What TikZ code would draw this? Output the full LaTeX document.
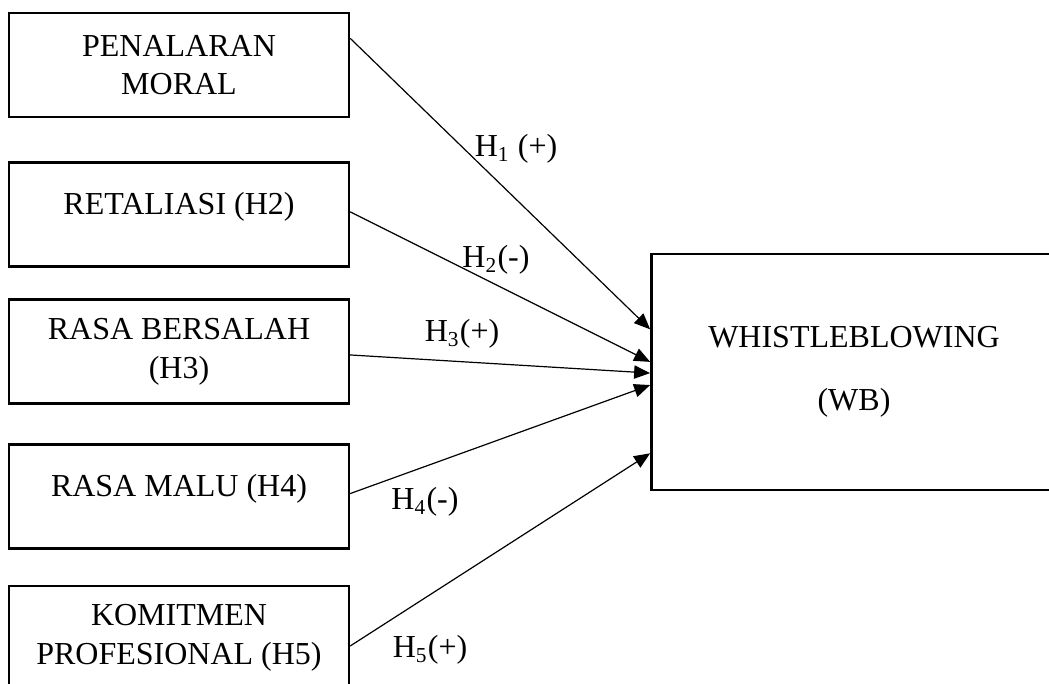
\documentclass[tikz,border=0pt]{standalone}
\usepackage{fontspec}
\setmainfont{Liberation Serif}
\usetikzlibrary{arrows.meta}
\newcommand{\varboxw}{127.5pt}
\newcommand{\varboxh}{39pt}
\newcommand{\wbboxw}{152pt}
\newcommand{\wbboxh}{88.5pt}
\newcommand{\varx}{179}
\newcommand{\txtfont}{\fontsize{12}{14.5}\selectfont}

\begin{document}
\begin{tikzpicture}[x=0.375pt,y=-0.375pt]
    \tikzset{
      varbox/.style={draw, line width=0.9pt, minimum width=\varboxw,
        minimum height=\varboxh, align=center, inner sep=0pt, font=\txtfont},
      onerow/.style={text height=9pt, text depth=9pt},
      hyp/.style={-{Triangle[length=6pt,width=5pt]}, line width=0.45pt},
      hlabel/.style={anchor=base, inner sep=0pt, font=\txtfont}
    }
    \useasboundingbox (0,0) rectangle (1049,684);
    % independent variables
    \node[varbox] (pm) at (\varx,65) {PENALARAN\\MORAL};
    \node[varbox,onerow] (ret) at (\varx,214.5) {RETALIASI (H2)};
    \node[varbox] (rb) at (\varx,351.5) {RASA BERSALAH\\(H3)};
    \node[varbox,onerow] (rm) at (\varx,496.5) {RASA MALU (H4)};
    \node[varbox] (kp) at (\varx,638) {KOMITMEN\\PROFESIONAL (H5)};
    % dependent variable
    \node[varbox, minimum width=\wbboxw, minimum height=\wbboxh] (wb) at (854,372)
      {WHISTLEBLOWING\\[9pt](WB)};
    % hypotheses
    \draw[hyp] ([yshift=10pt]pm.east) -- ([yshift=16pt]wb.west);
    \draw[hyp] ([yshift=1pt]ret.east) -- ([yshift=3.8pt]wb.west);
    \draw[hyp] ([yshift=-1.3pt]rb.east) -- ([yshift=-0.4pt]wb.west);
    \draw[hyp] ([yshift=1.1pt]rm.east) -- ([yshift=-4.9pt]wb.west);
    \draw[hyp] ([yshift=-3pt]kp.east) -- ([yshift=-30.5pt]wb.west);
    \node[hlabel] (h1) at (516,157) {H\textsubscript{1} (+)};
    \node[hlabel] (h2) at (496,268) {H\textsubscript{2}(-)};
    \node[hlabel] (h3) at (462,342) {H\textsubscript{3}(+)};
    \node[hlabel] (h4) at (425,510) {H\textsubscript{4}(-)};
    \node[hlabel] (h5) at (430,658) {H\textsubscript{5}(+)};
\end{tikzpicture}
\end{document}
